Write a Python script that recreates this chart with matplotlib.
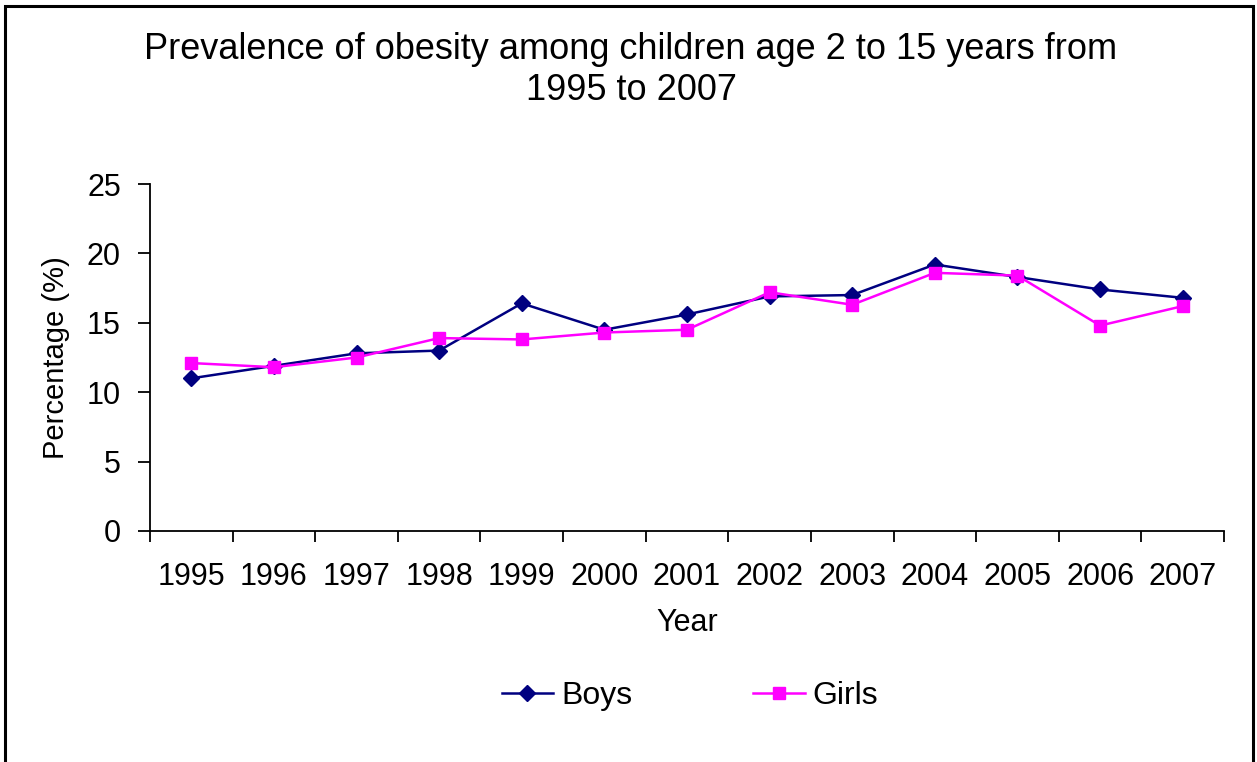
import numpy as np
import matplotlib.pyplot as plt
from matplotlib.patches import Rectangle

plt.rcParams['font.family'] = ['Liberation Sans', 'DejaVu Sans']

years = ['1995', '1996', '1997', '1998', '1999', '2000', '2001',
         '2002', '2003', '2004', '2005', '2006', '2007']
boys = [11.0, 11.9, 12.8, 13.0, 16.4, 14.5, 15.6, 16.9, 17.0, 19.2, 18.3, 17.4, 16.8]
girls = [12.1, 11.8, 12.5, 13.9, 13.8, 14.3, 14.5, 17.2, 16.3, 18.6, 18.4, 14.8, 16.2]

W, H = 1257, 762
fig = plt.figure(figsize=(W / 100, H / 100), dpi=100)
ax = fig.add_axes([150 / W, (H - 531) / H, (1224 - 150) / W, (531 - 184) / H])

x = np.arange(len(years))
ax.plot(x, boys, color='#000080', marker='D', markersize=8, linewidth=1.8, label='Boys')
ax.plot(x, girls, color='#FF00FF', marker='s', markersize=9, linewidth=1.8, label='Girls')

ax.set_xlim(-0.5, len(years) - 0.5)
ax.set_ylim(0, 25)
ax.set_yticks([0, 5, 10, 15, 20, 25])
# category boundaries carry the tick marks, labels sit in between
ax.set_xticks(np.arange(-0.5, len(years)))
ax.set_xticklabels([])
ax.set_xticks(x, minor=True)
ax.set_xticklabels(years, minor=True)
ax.tick_params(axis='x', which='minor', length=0, pad=22, labelsize=22)
ax.tick_params(axis='x', which='major', length=8, width=1.3, direction='out')
ax.tick_params(axis='y', length=9, width=1.3, direction='out', pad=12, labelsize=22)
for s in ['top', 'right']:
    ax.spines[s].set_visible(False)
for s in ['left', 'bottom']:
    ax.spines[s].set_linewidth(1.3)

ax.set_xlabel('Year', fontsize=22, labelpad=12)
ax.set_ylabel('Percentage (%)', fontsize=21, labelpad=12)
fig.text(631 / W, 1 - 70 / H, 'Prevalence of obesity among children age 2 to 15 years from\n1995 to 2007',
         ha='center', va='center', fontsize=26, linespacing=1.2)

ax.legend(loc='center', bbox_to_anchor=(690 / W, 1 - 696 / H), bbox_transform=fig.transFigure,
          ncol=2, frameon=False, fontsize=23, columnspacing=3.8, handlelength=1.6, handletextpad=0.25)

fig.patches.append(Rectangle((5 / W, -0.05), (1253 - 5) / W, 1.05 - 6 / H, transform=fig.transFigure,
                             fill=False, edgecolor='black', linewidth=2.2))

fig.savefig('out.png', dpi=100)
